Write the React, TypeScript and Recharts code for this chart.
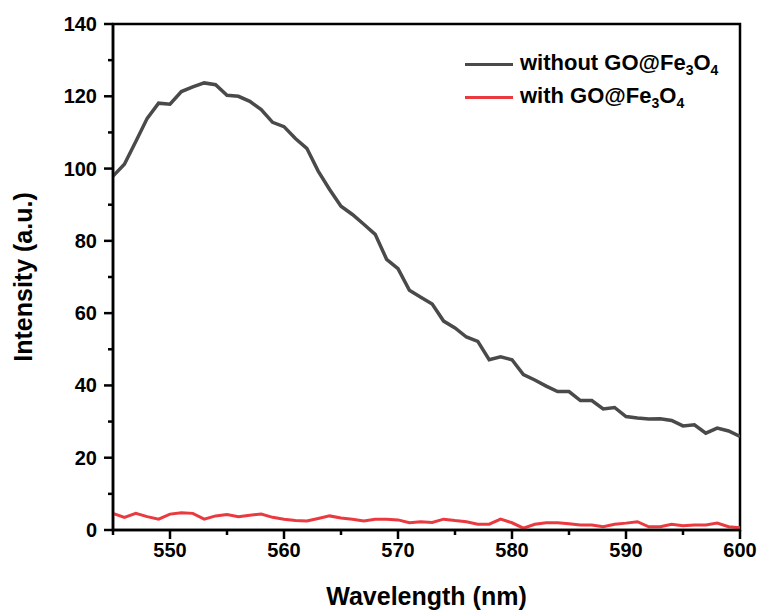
import React from 'react';
import { LineChart, Line, XAxis, YAxis, ReferenceArea, Legend, Label } from 'recharts';

// wavelength in nm, one reading per nm
const wavelength = [
  545, 546, 547, 548, 549, 550, 551, 552, 553, 554, 555, 556, 557, 558, 559, 560, 561, 562, 563,
  564, 565, 566, 567, 568, 569, 570, 571, 572, 573, 574, 575, 576, 577, 578, 579, 580, 581, 582,
  583, 584, 585, 586, 587, 588, 589, 590, 591, 592, 593, 594, 595, 596, 597, 598, 599, 600,
];

const withoutGO = [
  97.9, 101.2, 107.5, 113.9, 118.1, 117.8, 121.3, 122.6, 123.7, 123.2, 120.3, 120.0, 118.6, 116.3,
  112.8, 111.6, 108.3, 105.6, 99.3, 94.2, 89.6, 87.3, 84.6, 81.8, 74.9, 72.3, 66.3, 64.4, 62.5,
  57.8, 55.9, 53.4, 52.2, 47.1, 47.9, 47.1, 43.0, 41.5, 39.8, 38.3, 38.3, 35.8, 35.8, 33.5, 33.9,
  31.4, 31.0, 30.7, 30.8, 30.3, 28.8, 29.1, 26.8, 28.2, 27.4, 25.9,
];

const withGO = [
  4.6, 3.5, 4.6, 3.7, 3.0, 4.4, 4.8, 4.6, 3.0, 3.9, 4.3, 3.7, 4.1, 4.4, 3.5, 3.0, 2.6, 2.5, 3.2,
  3.9, 3.3, 3.0, 2.5, 3.0, 3.0, 2.8, 2.0, 2.3, 2.1, 3.0, 2.6, 2.3, 1.6, 1.6, 3.0, 2.0, 0.5, 1.6,
  2.0, 2.0, 1.7, 1.4, 1.4, 0.9, 1.6, 1.9, 2.3, 0.9, 0.9, 1.6, 1.2, 1.4, 1.4, 1.9, 0.9, 0.6,
];

const xTicks = [545, 550, 555, 560, 565, 570, 575, 580, 585, 590, 595, 600];
const yTicks = [0, 10, 20, 30, 40, 50, 60, 70, 80, 90, 100, 110, 120, 130, 140];

const data = wavelength.map((wl, i) => ({ wl, without: withoutGO[i], with: withGO[i] }));

const FONT = '"Liberation Sans", Arial, sans-serif';
const DARK = '#4a4a4a';
const RED = '#ea3a40';

const XTick = (props: any) => {
  const { x, y, payload } = props;
  const major = payload.value % 10 === 0;
  return (
    <g>
      <line x1={x} y1={y} x2={x} y2={y + (major ? 9 : 5)} stroke="#000" strokeWidth={2.5} />
      {major && (
        <text x={x} y={y + 27} textAnchor="middle" fontFamily={FONT} fontWeight="bold" fontSize={20} fill="#000">
          {payload.value}
        </text>
      )}
    </g>
  );
};

const YTick = (props: any) => {
  const { x, y, payload } = props;
  const major = payload.value % 20 === 0;
  return (
    <g>
      <line x1={x} y1={y} x2={x - (major ? 9 : 5)} y2={y} stroke="#000" strokeWidth={2.5} />
      {major && (
        <text x={x - 16} y={y + 7} textAnchor="end" fontFamily={FONT} fontWeight="bold" fontSize={20} fill="#000">
          {payload.value}
        </text>
      )}
    </g>
  );
};

const LegendBox = () => (
  <div style={{ fontFamily: FONT, fontWeight: 'bold', fontSize: 22, color: '#000' }}>
    {[
      { name: 'without', color: DARK },
      { name: 'with', color: RED },
    ].map((item) => (
      <div key={item.name} style={{ display: 'flex', alignItems: 'center', height: 33 }}>
        <div style={{ width: 48, height: 3.5, background: item.color, marginRight: 7 }} />
        <span>
          {item.name} GO@Fe<sub style={{ fontSize: 14 }}>3</sub>O<sub style={{ fontSize: 14 }}>4</sub>
        </span>
      </div>
    ))}
  </div>
);

export default function App() {
  return (
    <div style={{ position: 'absolute', left: 0, top: 0, background: '#fff' }}>
      <LineChart width={761} height={612} data={data} margin={{ top: 24, right: 21, left: 0, bottom: 0 }}>
        <XAxis
          dataKey="wl"
          type="number"
          domain={[545, 600]}
          ticks={xTicks}
          interval={0}
          height={82}
          tickSize={0}
          tickMargin={0}
          tick={<XTick />}
          axisLine={{ stroke: '#000', strokeWidth: 2.5 }}
          allowDataOverflow
        >
          <Label
            content={({ viewBox }: any) => (
              <text
                x={viewBox.x + viewBox.width / 2}
                y={viewBox.y + 75}
                textAnchor="middle"
                fontFamily={FONT}
                fontWeight="bold"
                fontSize={25}
                fill="#000"
              >
                Wavelength (nm)
              </text>
            )}
          />
        </XAxis>
        <YAxis
          type="number"
          domain={[0, 140]}
          ticks={yTicks}
          interval={0}
          width={113}
          tickSize={0}
          tickMargin={0}
          tick={<YTick />}
          axisLine={{ stroke: '#000', strokeWidth: 2.5 }}
          allowDataOverflow
        >
          <Label
            content={({ viewBox }: any) => {
              const cx = viewBox.x + 32;
              const cy = viewBox.y + viewBox.height / 2;
              return (
                <text
                  x={cx}
                  y={cy}
                  transform={`rotate(-90, ${cx}, ${cy})`}
                  textAnchor="middle"
                  fontFamily={FONT}
                  fontWeight="bold"
                  fontSize={25}
                  fill="#000"
                >
                  Intensity (a.u.)
                </text>
              );
            }}
          />
        </YAxis>
        <ReferenceArea x1={545} x2={600} y1={0} y2={140} fill="none" stroke="#000" strokeWidth={2.5} ifOverflow="visible" />
        <Legend
          layout="vertical"
          align="center"
          verticalAlign="middle"
          content={<LegendBox />}
          wrapperStyle={{ top: 48, left: 465, width: 290 }}
        />
        <Line
          type="linear"
          dataKey="without"
          stroke={DARK}
          strokeWidth={3.5}
          dot={false}
          isAnimationActive={false}
        />
        <Line
          type="linear"
          dataKey="with"
          stroke={RED}
          strokeWidth={3}
          dot={false}
          isAnimationActive={false}
        />
      </LineChart>
    </div>
  );
}
